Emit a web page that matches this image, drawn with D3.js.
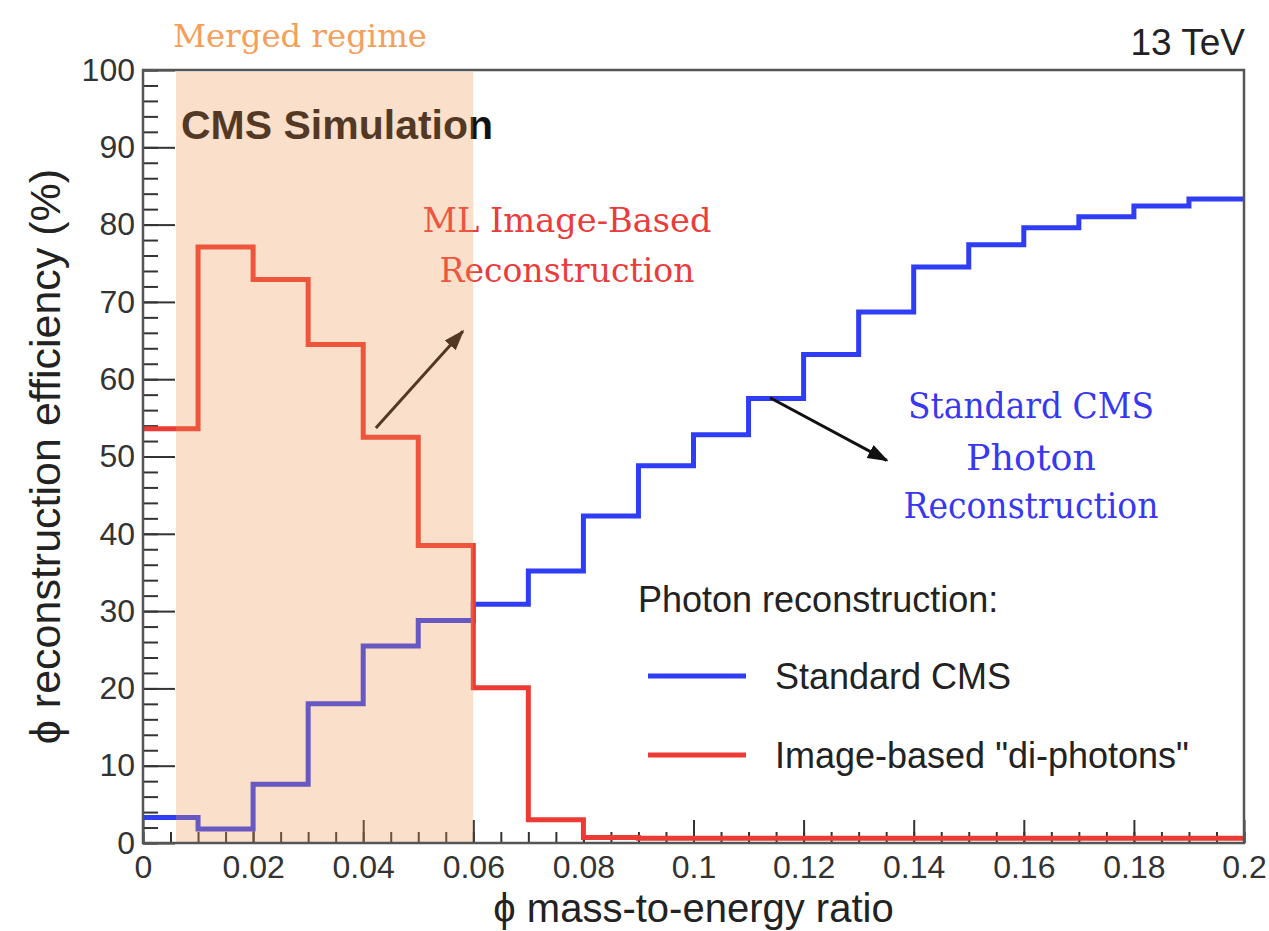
<!DOCTYPE html>
<html>
<head>
<meta charset="utf-8">
<script src="https://cdn.jsdelivr.net/npm/d3@7"></script>
<style>
  body { margin: 0; background: #fff; }
  svg { display: block; }
</style>
</head>
<body>
<svg id="chart" width="1269" height="931"></svg>
<script>
// ---- data -------------------------------------------------------------
// lower edges of the 0.01-wide bins in the phi mass-to-energy ratio
const binEdges = [0.00, 0.01, 0.02, 0.03, 0.04, 0.05, 0.06, 0.07, 0.08, 0.09,
                  0.10, 0.11, 0.12, 0.13, 0.14, 0.15, 0.16, 0.17, 0.18, 0.19];
const xMax = 0.2;

// reconstruction efficiency (%) per bin
const standardEff = [3.3, 1.8, 7.6, 18.0, 25.5, 28.8, 30.9, 35.2, 42.3, 48.8,
                     52.8, 57.5, 63.2, 68.7, 74.5, 77.4, 79.6, 81.0, 82.4, 83.3];
const imageEff    = [53.6, 77.1, 72.9, 64.5, 52.5, 38.5, 20.1, 3.0, 0.7, 0.6,
                     0.6, 0.6, 0.6, 0.6, 0.6, 0.6, 0.6, 0.6, 0.6, 0.6];

const xTickValues = [0, 0.02, 0.04, 0.06, 0.08, 0.1, 0.12, 0.14, 0.16, 0.18, 0.2];
const xTickLabels = ["0", "0.02", "0.04", "0.06", "0.08", "0.1", "0.12", "0.14", "0.16", "0.18", "0.2"];
const yTickValues = [0, 10, 20, 30, 40, 50, 60, 70, 80, 90, 100];

const mergedRegime = [0.006, 0.06];

const legendTitle = "Photon reconstruction:";
const legendLabels = ["Standard CMS", "Image-based \"di-photons\""];

// ---- layout -----------------------------------------------------------
const plot = { left: 143, right: 1244, top: 70, bottom: 843 };
const blue = "#2f3ef4", red = "#ec3a34";
const sans = "'Liberation Sans', Arial, Helvetica, sans-serif";
const serif = "'DejaVu Serif', 'Liberation Serif', serif";

const svg = d3.select("#chart");

const x = d3.scaleLinear().domain([0, xMax]).range([plot.left, plot.right]);
const y = d3.scaleLinear().domain([0, 100]).range([plot.bottom, plot.top]);

// ---- axes (ticks point into the frame) -------------------------------
const xMinor = d3.range(0, 41).map(i => i * 0.005);
const yMinor = d3.range(0, 51).map(i => i * 2);

svg.append("g")
  .attr("transform", `translate(0,${plot.bottom})`)
  .call(d3.axisBottom(x).tickValues(xMinor).tickSize(-11).tickFormat(""))
  .call(g => g.select(".domain").remove());

svg.append("g")
  .attr("transform", `translate(${plot.left},0)`)
  .call(d3.axisLeft(y).tickValues(yMinor).tickSize(-15).tickFormat(""))
  .call(g => g.select(".domain").remove());

const xAxis = svg.append("g")
  .attr("transform", `translate(0,${plot.bottom})`)
  .call(d3.axisBottom(x).tickValues(xTickValues).tickSize(-23).tickPadding(12)
        .tickFormat((d, i) => xTickLabels[i]))
  .call(g => g.select(".domain").remove());

const yAxis = svg.append("g")
  .attr("transform", `translate(${plot.left},0)`)
  .call(d3.axisLeft(y).tickValues(yTickValues).tickSize(-32).tickPadding(8))
  .call(g => g.select(".domain").remove());

[xAxis, yAxis].forEach(a => {
  a.selectAll("text").attr("font-family", sans).attr("font-size", 32).attr("fill", "#333");
});
svg.selectAll(".tick line").attr("stroke", "#333").attr("stroke-width", 2);

// ---- histograms -------------------------------------------------------
const stepLine = d3.line()
  .x(d => x(d[0]))
  .y(d => y(d[1]))
  .curve(d3.curveStepAfter);

function histPoints(values) {
  const pts = binEdges.map((e, i) => [e, values[i]]);
  pts.push([xMax, values[values.length - 1]]);
  return pts;
}

svg.append("path")
  .datum(histPoints(standardEff))
  .attr("d", stepLine)
  .attr("fill", "none").attr("stroke", blue).attr("stroke-width", 5)
  .attr("stroke-linejoin", "miter");

svg.append("path")
  .datum(histPoints(imageEff))
  .attr("d", stepLine)
  .attr("fill", "none").attr("stroke", red).attr("stroke-width", 5)
  .attr("stroke-linejoin", "miter");

// ---- text labels ------------------------------------------------------
svg.append("text")
  .attr("x", 181).attr("y", 139)
  .attr("font-family", sans).attr("font-weight", "bold").attr("font-size", 41)
  .attr("fill", "#111")
  .text("CMS Simulation");

function serifText(lines, cx, baselines, size, color, widths) {
  lines.forEach((t, i) => {
    svg.append("text")
      .attr("x", cx).attr("y", baselines[i])
      .attr("text-anchor", "middle")
      .attr("font-family", serif).attr("font-size", size)
      .attr("fill", color)
      .attr("textLength", widths[i]).attr("lengthAdjust", "spacingAndGlyphs")
      .text(t);
  });
}

serifText(["ML Image-Based", "Reconstruction"], 567, [232, 282], 34, "#ea3c3c", [289, 255]);
serifText(["Standard CMS", "Photon", "Reconstruction"], 1031, [418, 470, 518], 35, "#3838f0", [246, 130, 255]);

// arrows (tail and head given in axis units)
const arrows = [
  { from: [0.0423, 53.7], to: [0.0581, 66.2] },
  { from: [0.1139, 57.6], to: [0.1351, 49.5] }
];
svg.append("defs").append("marker")
  .attr("id", "head").attr("viewBox", "0 0 10 10")
  .attr("refX", 9).attr("refY", 5)
  .attr("markerWidth", 7).attr("markerHeight", 7)
  .attr("orient", "auto").attr("markerUnits", "strokeWidth")
  .append("path").attr("d", "M0,1.5 L10,5 L0,8.5 Z").attr("fill", "#111");

arrows.forEach(a => {
  svg.append("line")
    .attr("x1", x(a.from[0])).attr("y1", y(a.from[1]))
    .attr("x2", x(a.to[0])).attr("y2", y(a.to[1]))
    .attr("stroke", "#111").attr("stroke-width", 3)
    .attr("marker-end", "url(#head)");
});

// ---- legend -----------------------------------------------------------
svg.append("text")
  .attr("x", 638).attr("y", 612)
  .attr("font-family", sans).attr("font-size", 36).attr("fill", "#222")
  .text(legendTitle);

const legendColors = [blue, red];
const legendRows = [676, 755];
legendLabels.forEach((lab, i) => {
  svg.append("line")
    .attr("x1", 648).attr("x2", 746)
    .attr("y1", legendRows[i]).attr("y2", legendRows[i])
    .attr("stroke", legendColors[i]).attr("stroke-width", 5);
  svg.append("text")
    .attr("x", 775).attr("y", legendRows[i] + 13)
    .attr("font-family", sans).attr("font-size", 36).attr("fill", "#222")
    .text(lab);
});

// ---- merged-regime band (translucent, drawn over the curves) ----------
svg.append("rect")
  .attr("x", x(mergedRegime[0])).attr("y", plot.top + 2)
  .attr("width", x(mergedRegime[1]) - x(mergedRegime[0]))
  .attr("height", plot.bottom - plot.top - 2)
  .attr("fill", "rgb(240,150,80)").attr("fill-opacity", 0.3);

svg.append("text")
  .attr("x", 300).attr("y", 47)
  .attr("text-anchor", "middle")
  .attr("font-family", serif).attr("font-size", 31)
  .attr("fill", "#f4a05c")
  .attr("textLength", 254).attr("lengthAdjust", "spacingAndGlyphs")
  .text("Merged regime");

// ---- frame --------------------------------------------------------------
svg.append("rect")
  .attr("x", plot.left).attr("y", plot.top)
  .attr("width", plot.right - plot.left).attr("height", plot.bottom - plot.top)
  .attr("fill", "none").attr("stroke", "#555").attr("stroke-width", 2.5);

// ---- titles -------------------------------------------------------------
svg.append("text")
  .attr("x", plot.right + 1).attr("y", 55)
  .attr("text-anchor", "end")
  .attr("font-family", sans).attr("font-size", 37).attr("fill", "#222")
  .text("13 TeV");

svg.append("text")
  .attr("x", (plot.left + plot.right) / 2).attr("y", 922)
  .attr("text-anchor", "middle")
  .attr("font-family", sans).attr("font-size", 40).attr("fill", "#222")
  .text("\u03d5 mass-to-energy ratio");

svg.append("text")
  .attr("transform", `translate(60,${(plot.top + plot.bottom) / 2}) rotate(-90)`)
  .attr("text-anchor", "middle")
  .attr("font-family", sans).attr("font-size", 43).attr("fill", "#222")
  .text("\u03d5 reconstruction efficiency (%)");
</script>
</body>
</html>
